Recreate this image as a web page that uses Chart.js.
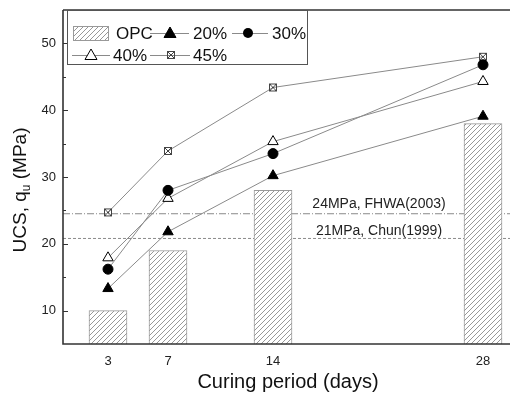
<!DOCTYPE html>
<html><head><meta charset="utf-8">
<script src="https://cdn.jsdelivr.net/npm/chart.js@4/dist/chart.umd.min.js"></script>
<style>html,body{margin:0;padding:0;background:#fff}#wrap{width:510px;height:394px}</style>
</head><body><div id="wrap"><canvas id="c" width="510" height="394"></canvas></div>
<script>
const days = [3, 7, 14, 28];
const opc = [10, 19, 28, 38];
const s20 = [13.3, 21.8, 30.2, 39.1];
const s30 = [16.2, 28.0, 33.5, 46.8];
const s40 = [17.9, 26.8, 35.3, 44.3];
const s45 = [24.7, 33.9, 43.4, 48.0];
const refValues = [24.5, 20.8];
const refLabels = ['24MPa, FHWA(2003)', '21MPa, Chun(1999)'];
const xTicks = [3, 7, 14, 28];
const yTicks = [10, 20, 30, 40, 50];
const yMinor = [15, 25, 35, 45];
const legendNames = ['OPC', '20%', '30%', '40%', '45%'];
const xTitle = 'Curing period (days)';

const FONT = '"Liberation Sans", Arial, sans-serif';
const ctx = document.getElementById('c').getContext('2d');

function makeHatch() {
  const c = document.createElement('canvas'); c.width = 5; c.height = 5;
  const g = c.getContext('2d');
  g.fillStyle = '#fff'; g.fillRect(0, 0, 5, 5);
  g.strokeStyle = '#8c8c8c'; g.lineWidth = 0.9;
  g.beginPath();
  g.moveTo(-1, 6); g.lineTo(6, -1);
  g.moveTo(-1, 1); g.lineTo(1, -1);
  g.moveTo(4, 6); g.lineTo(6, 4);
  g.stroke();
  return ctx.createPattern(c, 'repeat');
}
const hatch = makeHatch();

function boxX() {
  const c = document.createElement('canvas'); c.width = 10; c.height = 10;
  const g = c.getContext('2d');
  g.strokeStyle = '#444'; g.lineWidth = 1;
  g.strokeRect(1.5, 1.5, 7, 7);
  g.beginPath(); g.moveTo(1.5, 1.5); g.lineTo(8.5, 8.5); g.moveTo(8.5, 1.5); g.lineTo(1.5, 8.5); g.stroke();
  return c;
}
const boxXImg = boxX();

const pts = arr => days.map((d, i) => ({ x: d, y: arr[i] }));
const LINE = '#8a8a8a';
const xMax = 29.8;

const lineDs = (label, arr, style, fill, radius) => ({
  type: 'line', label, data: pts(arr), borderColor: LINE, borderWidth: 1,
  pointStyle: style, pointRadius: radius, pointBackgroundColor: fill,
  pointBorderColor: '#000', pointBorderWidth: 1, order: 1, tension: 0
});

const refDs = (v, dash) => ({
  type: 'line', data: [{ x: 0, y: v }, { x: xMax, y: v }], borderColor: '#8a8a8a',
  borderWidth: 1, borderDash: dash, pointRadius: 0, order: 5
});

const frame = {
  id: 'frame',
  afterDraw(chart) {
    const a = chart.chartArea, c = chart.ctx, ys = chart.scales.y, xs = chart.scales.x;
    c.save();
    // ref labels
    c.fillStyle = '#222'; c.font = '14px ' + FONT; c.textAlign = 'center'; c.textBaseline = 'middle';
    c.fillText(refLabels[0], 379, 204);
    c.fillText(refLabels[1], 379, 231);
    // frame
    c.strokeStyle = '#333'; c.lineWidth = 1.6;
    c.beginPath();
    c.moveTo(a.left, a.top); c.lineTo(a.right + 2, a.top);
    c.moveTo(a.left, a.top); c.lineTo(a.left, a.bottom);
    c.lineTo(a.right + 2, a.bottom);
    c.stroke();
    // y ticks inward
    c.lineWidth = 1;
    c.beginPath();
    yTicks.forEach(v => { const y = Math.round(ys.getPixelForValue(v)) + 0.5; c.moveTo(a.left, y); c.lineTo(a.left + 5, y); });
    yMinor.forEach(v => { const y = Math.round(ys.getPixelForValue(v)) + 0.5; c.moveTo(a.left, y); c.lineTo(a.left + 3, y); });
    c.stroke();
    // tick labels
    c.fillStyle = '#222'; c.font = '13px ' + FONT;
    c.textAlign = 'right'; c.textBaseline = 'middle';
    yTicks.forEach(v => c.fillText(String(v), 56, ys.getPixelForValue(v)));
    c.textAlign = 'center';
    xTicks.forEach(v => c.fillText(String(v), xs.getPixelForValue(v), 361));
    // y title with subscript
    c.fillStyle = '#111';
    c.translate(26, 190); c.rotate(-Math.PI / 2);
    const big = '19px ' + FONT, small = '12px ' + FONT;
    c.font = big; const w1 = c.measureText('UCS, q').width; const w3 = c.measureText(' (MPa)').width;
    c.font = small; const w2 = c.measureText('u').width;
    let x0 = -(w1 + w2 + w3) / 2;
    c.textAlign = 'left'; c.textBaseline = 'alphabetic';
    c.font = big; c.fillText('UCS, q', x0, 0);
    c.font = small; c.fillText('u', x0 + w1, 4);
    c.font = big; c.fillText(' (MPa)', x0 + w1 + w2, 0);
    c.setTransform(1, 0, 0, 1, 0, 0);
    // x title
    c.font = '20px ' + FONT; c.textAlign = 'center'; c.textBaseline = 'middle'; c.fillStyle = '#111';
    c.fillText(xTitle, 288, 382);
    // legend box
    c.fillStyle = '#fff'; c.fillRect(67, 10, 240, 54);
    c.strokeStyle = '#555'; c.lineWidth = 1; c.strokeRect(67.5, 10.5, 240, 54);
    c.font = '17px ' + FONT; c.textAlign = 'left'; c.fillStyle = '#111';
    // OPC swatch
    c.fillStyle = hatch; c.fillRect(73, 26, 35, 14);
    c.strokeStyle = '#999'; c.strokeRect(73.5, 26.5, 35, 14);
    c.fillStyle = '#111'; c.fillText(legendNames[0], 116, 34);
    const legLine = (x1, x2, y) => { c.strokeStyle = LINE; c.lineWidth = 1; c.beginPath(); c.moveTo(x1, y + 0.5); c.lineTo(x2, y + 0.5); c.stroke(); };
    const tri = (cx, cy, fill) => {
      c.beginPath(); c.moveTo(cx, cy - 6); c.lineTo(cx + 6, cy + 4.5); c.lineTo(cx - 6, cy + 4.5); c.closePath();
      c.fillStyle = fill; c.fill(); c.strokeStyle = '#000'; c.lineWidth = 1; c.stroke();
    };
    legLine(150, 189, 33); tri(170, 33, '#000');
    c.fillStyle = '#111'; c.fillText(legendNames[1], 193, 34);
    legLine(232, 268, 33);
    c.beginPath(); c.arc(248, 33, 5, 0, Math.PI * 2); c.fillStyle = '#000'; c.fill();
    c.fillStyle = '#111'; c.fillText(legendNames[2], 272, 34);
    legLine(72, 110, 55); tri(91, 55, '#fff');
    c.fillStyle = '#111'; c.fillText(legendNames[3], 113, 56);
    legLine(150, 190, 55); c.drawImage(boxXImg, 166, 50);
    c.fillStyle = '#111'; c.fillText(legendNames[4], 193, 56);
    c.restore();
  }
};

new Chart(ctx, {
  type: 'bar',
  data: {
    datasets: [
      { type: 'bar', label: 'OPC', data: pts(opc), backgroundColor: hatch, borderColor: '#9a9a9a', borderWidth: 1, barThickness: 38, order: 3 },
      lineDs('20%', s20, 'triangle', '#000', 6),
      lineDs('30%', s30, 'circle', '#000', 5),
      lineDs('40%', s40, 'triangle', '#fff', 6),
      lineDs('45%', s45, boxXImg, '#fff', 5),
      refDs(refValues[0], [7, 2, 1, 2]),
      refDs(refValues[1], [3, 2])
    ]
  },
  options: {
    responsive: false, animation: false,
    layout: { autoPadding: false, padding: { top: 10, right: 0, left: 0, bottom: 0 } },
    plugins: { legend: { display: false }, tooltip: { enabled: false } },
    scales: {
      x: {
        type: 'linear', min: 0, max: xMax, offset: false,
        grid: { display: false }, border: { display: false },
        afterBuildTicks: s => { s.ticks = xTicks.map(v => ({ value: v })); },
        afterFit: s => { s.height = 50; },
        ticks: { display: false }
      },
      y: {
        type: 'linear', min: 5, max: 55,
        grid: { display: false }, border: { display: false },
        afterBuildTicks: s => { s.ticks = yTicks.map(v => ({ value: v })); },
        afterFit: s => { s.width = 63; },
        ticks: { display: false }
      }
    }
  },
  plugins: [frame]
});
</script></body></html>
